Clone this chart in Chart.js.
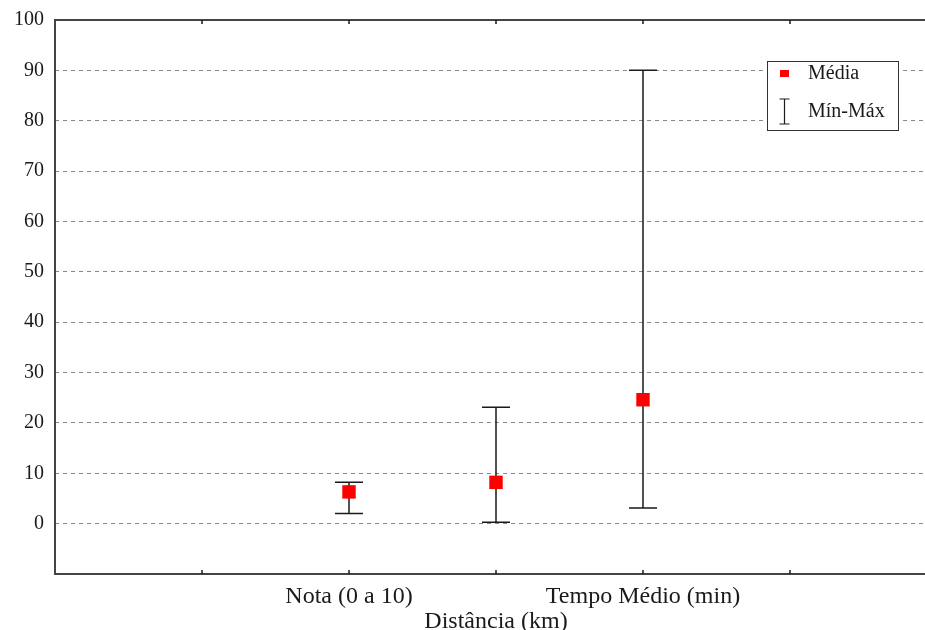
<!DOCTYPE html>
<html>
<head>
<meta charset="utf-8">
<script src="https://cdn.jsdelivr.net/npm/chart.js@4/dist/chart.umd.min.js"></script>
<style>
  html, body { margin: 0; padding: 0; background: #fff; overflow: hidden; }
  canvas { display: block; }
</style>
</head>
<body>
<canvas id="chart" width="947" height="630"></canvas>
<script>
const categories = ["Nota (0 a 10)", "Distância (km)", "Tempo Médio (min)"];
const meanVals = [6.3, 8.2, 24.6];
const minVals = [2.0, 0.3, 3.1];
const maxVals = [8.2, 23.1, 90];
const yTicks = [-10, 0, 10, 20, 30, 40, 50, 60, 70, 80, 90, 100];
const legendLabels = ["Média", "Mín-Máx"];

const FONT = "'Liberation Serif', 'DejaVu Serif', serif";
const INK = "#1a1a1a";
const OFFSET = 2; // first category sits on the third x tick

const frameAndBars = {
  id: "frameAndBars",
  beforeDatasetsDraw(chart) {
    const ctx = chart.ctx;
    const xs = chart.scales.x, ys = chart.scales.y;
    ctx.save();
    ctx.strokeStyle = INK;
    ctx.lineWidth = 1.5;
    categories.forEach((c, i) => {
      const x = xs.getPixelForValue(i + OFFSET);
      const y1 = ys.getPixelForValue(minVals[i]);
      const y2 = ys.getPixelForValue(maxVals[i]);
      ctx.beginPath();
      ctx.moveTo(x, y1); ctx.lineTo(x, y2);
      ctx.moveTo(x - 14, y1); ctx.lineTo(x + 14, y1);
      ctx.moveTo(x - 14, y2); ctx.lineTo(x + 14, y2);
      ctx.stroke();
    });
    ctx.restore();
  },
  afterDraw(chart) {
    const ctx = chart.ctx;
    const a = chart.chartArea;
    const xs = chart.scales.x;
    ctx.save();
    // frame
    ctx.strokeStyle = "#444";
    ctx.lineWidth = 2;
    ctx.beginPath();
    ctx.moveTo(a.right, a.top); ctx.lineTo(a.left, a.top);
    ctx.lineTo(a.left, a.bottom); ctx.lineTo(a.right, a.bottom);
    ctx.stroke();
    // inward tick marks on top and bottom
    ctx.lineWidth = 1.5;
    ctx.strokeStyle = INK;
    xs.ticks.forEach(t => {
      if (t.value <= xs.min || t.value >= xs.max) return;
      const x = xs.getPixelForValue(t.value);
      ctx.beginPath();
      ctx.moveTo(x, a.bottom); ctx.lineTo(x, a.bottom - 4);
      ctx.moveTo(x, a.top); ctx.lineTo(x, a.top + 4);
      ctx.stroke();
    });
    // legend box
    const bx = 767, by = 61, bw = 131, bh = 69;
    ctx.fillStyle = "#fff";
    ctx.fillRect(bx, by, bw, bh);
    ctx.strokeStyle = "#333";
    ctx.lineWidth = 1;
    ctx.strokeRect(bx + 0.5, by + 0.5, bw, bh);
    ctx.fillStyle = "#ff0000";
    ctx.fillRect(bx + 13, by + 9, 9, 7);
    ctx.strokeStyle = INK;
    ctx.lineWidth = 1.2;
    ctx.beginPath();
    ctx.moveTo(bx + 17.5, by + 38); ctx.lineTo(bx + 17.5, by + 63);
    ctx.moveTo(bx + 12.5, by + 38); ctx.lineTo(bx + 22.5, by + 38);
    ctx.moveTo(bx + 12.5, by + 63); ctx.lineTo(bx + 22.5, by + 63);
    ctx.stroke();
    ctx.fillStyle = INK;
    ctx.font = "20px " + FONT;
    ctx.textBaseline = "middle";
    ctx.fillText(legendLabels[0], bx + 41, by + 13);
    ctx.fillText(legendLabels[1], bx + 41, by + 51);
    ctx.restore();
  }
};

new Chart(document.getElementById("chart"), {
  type: "scatter",
  data: {
    datasets: [{
      label: legendLabels[0],
      data: meanVals.map((v, i) => ({ x: i + OFFSET, y: v })),
      pointStyle: "rect",
      pointRadius: 9.5,
      pointBorderWidth: 0,
      backgroundColor: "#ff0000",
      borderColor: "#ff0000"
    }]
  },
  options: {
    responsive: false,
    animation: false,
    layout: { padding: { top: 20, right: 3, left: 0, bottom: 0 } },
    plugins: { legend: { display: false }, tooltip: { enabled: false } },
    scales: {
      x: {
        type: "linear",
        min: 0,
        max: categories.length + 2 * OFFSET - 1,
        grid: { display: false, drawTicks: false },
        border: { display: false },
        afterFit: s => { s.height = 56; },
        ticks: {
          stepSize: 1,
          padding: 10,
          color: INK,
          font: { family: FONT, size: 24, lineHeight: 1.05 },
          maxRotation: 0,
          autoSkip: false,
          callback: v => {
            const i = v - OFFSET;
            if (i < 0 || i >= categories.length) return "";
            return i % 2 === 1 ? ["", categories[i]] : categories[i];
          }
        }
      },
      y: {
        min: yTicks[0],
        max: yTicks[yTicks.length - 1],
        afterBuildTicks: s => { s.ticks = yTicks.map(v => ({ value: v })); },
        afterFit: s => { s.width = 55; s.paddingTop = 0; s.paddingBottom = 0; },
        grid: {
          drawTicks: false,
          lineWidth: 1,
          color: c => (c.tick && c.tick.value >= 0 && c.tick.value < 100) ? "#8a8a8a" : "rgba(0,0,0,0)"
        },
        border: { display: false, dash: [4, 4] },
        ticks: {
          padding: 11,
          color: INK,
          font: { family: FONT, size: 20 },
          callback: v => (v === yTicks[0] ? "" : v)
        }
      }
    }
  },
  plugins: [frameAndBars]
});
</script>
</body>
</html>
